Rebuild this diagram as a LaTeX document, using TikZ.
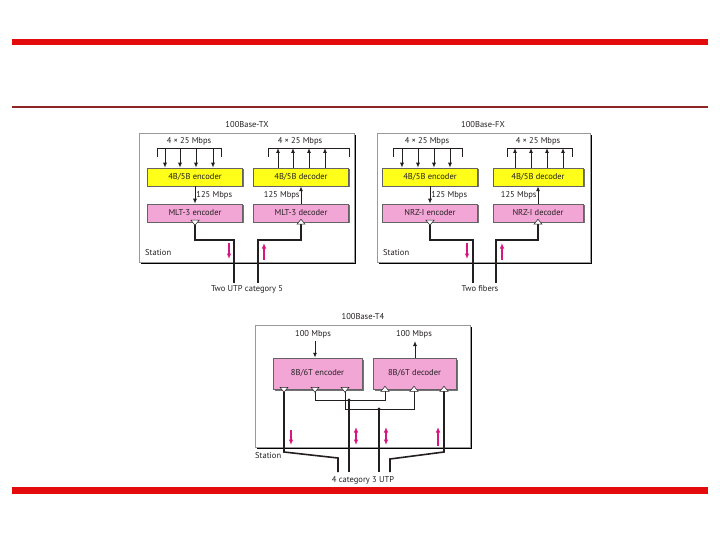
\documentclass[tikz,border=0pt]{standalone}
\usepackage{fontspec}
\setmainfont{PT Sans}
\usetikzlibrary{arrows.meta,shadows}
\definecolor{ink}{HTML}{231F20}
\definecolor{rim}{HTML}{9A9A9A}
\definecolor{codefill}{HTML}{FFFF1A}
\definecolor{linefill}{HTML}{F2A6D6}
\definecolor{signal}{HTML}{D9167F}
\definecolor{barred}{HTML}{E30B0B}
\definecolor{rulered}{HTML}{8E2424}
\newcommand{\labelsize}{\fontsize{8.5}{10}\selectfont}
\tikzset{
 every node/.append style={font=\labelsize,text=ink,inner sep=1pt},
 panel/.style={draw=rim,fill=white,line width=.6pt,drop shadow={shadow xshift=2pt,shadow yshift=-2pt,fill=black,opacity=1}},
 box/.style={draw=ink!70,line width=.5pt,minimum height=18pt,drop shadow={shadow xshift=1.5pt,shadow yshift=-1.5pt,fill=black!55,opacity=1}},
 blockcode/.style={box,fill=codefill,minimum width=95pt},
 linecode/.style={box,fill=linefill,minimum width=95pt},
 word/.style={inner sep=0pt},
 bracket/.style={draw=ink,line width=.5pt},
 flow/.style={-{Latex[length=5pt,width=4pt]},draw=ink,line width=.9pt},
 wire/.style={draw=ink,line width=.7pt},
 cable/.style={draw=ink,line width=1.6pt},
 tri/.style={draw=ink,fill=white,line width=.5pt},
 sigdn/.style={-{Latex[length=5.5pt,width=4.5pt]},draw=signal,line width=1.2pt},
 sigboth/.style={{Latex[length=5.5pt,width=4.5pt]}-{Latex[length=5.5pt,width=4.5pt]},draw=signal,line width=1.2pt},
}

\begin{document}
\begin{tikzpicture}[x=1pt,y=-1pt]

\useasboundingbox (0,0) rectangle (720,540);
% slide rules
\fill[barred] (12,39) rectangle (708,45);
\fill[rulered] (12,106.5) rectangle (708,108.5);
\fill[barred] (12,487) rectangle (708,494);

% 100Base-TX
\node[word] (txtitle) at (247,125) {100Base-TX};
\node[panel,minimum width=215pt,minimum height=129pt] (txpanel) at (246.5,197.5) {};
\node[word,anchor=west] (txstation) at (145,253) {Station};
\node[blockcode] (txenc) at (195,177) {4B/5B encoder};
\node[blockcode] (txdec) at (301,177) {4B/5B decoder};
\node[linecode] (txmlt) at (195,213) {MLT-3 encoder};
\node[linecode] (txmltd) at (301,213) {MLT-3 decoder};
\node[word] (txinlbl) at (189,141) {4 × 25 Mbps};
\node[word] (txoutlbl) at (300,141) {4 × 25 Mbps};
\draw[bracket] (157,157) |- (221,148) -- (221,157);
\draw[bracket] (268,157) |- (349,148) -- (349,157);
\foreach \a in {165,180,196,213} \draw[flow] (\a,148) -- (\a,148 |- txenc.north);
\foreach \a in {278,293,309,325} \draw[flow] (\a,148 |- txdec.north) -- (\a,148);
\draw[flow] (txenc) -- node[right] {125 Mbps} (txmlt);
\draw[flow] (txmltd) -- node[left] {125 Mbps} (txdec);
\coordinate (txo) at (txmlt.south);
\coordinate (txi) at (txmltd.south);
\coordinate (txa) at (234,283);
\coordinate (txb) at (258,283);
\draw[cable] (txo) -- ++(0,18) -| (txa);
\draw[cable] (txi) -- ++(0,18) -| (txb);
\draw[tri] (txo) ++(-4,-2) -- ++(8,0) -- ++(-4,5) -- cycle;
\draw[tri] (txi) ++(-4,2) -- ++(8,0) -- ++(-4,-5) -- cycle;
\draw[sigdn] (229,243) -- (229,259);
\draw[sigdn] (264,260) -- (264,243);
\node[word] (txcable) at (247,289) {Two UTP category 5};

% 100Base-FX
\node[word] (fxtitle) at (483,125) {100Base-FX};
\node[panel,minimum width=213pt,minimum height=129pt] (fxpanel) at (483.5,197.5) {};
\node[word,anchor=west] (fxstation) at (383,253) {Station};
\node[blockcode] (fxenc) at (430,177) {4B/5B encoder};
\node[blockcode,minimum width=90pt] (fxdec) at (538,177) {4B/5B decoder};
\node[linecode] (fxnrz) at (430,213) {NRZ-I encoder};
\node[linecode,minimum width=90pt] (fxnrzd) at (538,213) {NRZ-I decoder};
\node[word] (fxinlbl) at (427,141) {4 × 25 Mbps};
\node[word] (fxoutlbl) at (538,141) {4 × 25 Mbps};
\draw[bracket] (393,157) |- (462,148) -- (462,157);
\draw[bracket] (507,157) |- (572,148) -- (572,157);
\foreach \a in {402,418,434,450} \draw[flow] (\a,148) -- (\a,148 |- fxenc.north);
\foreach \a in {515,531,547,563} \draw[flow] (\a,148 |- fxdec.north) -- (\a,148);
\draw[flow] (fxenc) -- node[right] {125 Mbps} (fxnrz);
\draw[flow] (fxnrzd) -- node[left] {125 Mbps} (fxdec);
\coordinate (fxo) at (fxnrz.south);
\coordinate (fxi) at (fxnrzd.south);
\coordinate (fxa) at (473,283);
\coordinate (fxb) at (496,283);
\draw[cable] (fxo) -- ++(0,18) -| (fxa);
\draw[cable] (fxi) -- ++(0,18) -| (fxb);
\draw[tri] (fxo) ++(-4,-2) -- ++(8,0) -- ++(-4,5) -- cycle;
\draw[tri] (fxi) ++(-4,2) -- ++(8,0) -- ++(-4,-5) -- cycle;
\draw[sigdn] (467,243) -- (467,259);
\draw[sigdn] (502,260) -- (502,243);
\node[word] (fxcable) at (480,289) {Two fibers};

% 100Base-T4
\node[word] (tftitle) at (363,317) {100Base-T4};
\node[panel,minimum width=215pt,minimum height=122pt] (tfpanel) at (362.5,386) {};
\node[word,anchor=west] (tfstation) at (255,456) {Station};
\node[linecode,minimum width=89pt,minimum height=31pt] (tfenc) at (317.5,373.5) {8B/6T encoder};
\node[linecode,minimum width=83pt,minimum height=31pt] (tfdec) at (414.5,373.5) {8B/6T decoder};
\node[word] (tfinlbl) at (313,334) {100 Mbps};
\node[word] (tfoutlbl) at (414,334) {100 Mbps};
\draw[flow] (315,341) -- (315,341 |- tfenc.north);
\draw[flow] (415,341 |- tfdec.north) -- (415,341);
\foreach \n/\a in {e1/284,e2/315,e3/345} \coordinate (\n) at (tfenc.south -| \a,0);
\foreach \n/\a in {d1/385,d2/414,d3/444} \coordinate (\n) at (tfdec.south -| \a,0);
\coordinate (j1) at (349,400);
\coordinate (j2) at (379,409);
\coordinate (w1) at (338,472);
\coordinate (w2) at (349,472);
\coordinate (w3) at (379,472);
\coordinate (w4) at (390,472);
\draw[wire] (e2) -- (315,400) -| (d1);
\draw[wire] (e3) -- (345,409) -| (d2);
\draw[cable] (e1) -- (284,452) -- (338,458) -- (w1);
\draw[cable,line width=1.3pt] (j1) -- (w2);
\draw[cable,line width=1.3pt] (j2) -- (w3);
\draw[cable] (d3) -- (444,452) -- (390,459) -- (w4);
\fill[ink] (j1) circle (1.7pt) (j2) circle (1.7pt);
\foreach \p in {e1,e2,e3} \draw[tri] (\p) ++(-4,-2) -- ++(8,0) -- ++(-4,5) -- cycle;
\foreach \p in {d1,d2,d3} \draw[tri] (\p) ++(-4,2) -- ++(8,0) -- ++(-4,-5) -- cycle;
\draw[sigdn] (291,430) -- (291,445);
\draw[sigboth] (356,427) -- (356,445);
\draw[sigboth] (386,427) -- (386,445);
\draw[sigdn] (438,446) -- (438,427);
\node[word] (tfcable) at (363,480) {4 category 3 UTP};

\end{tikzpicture}
\end{document}
